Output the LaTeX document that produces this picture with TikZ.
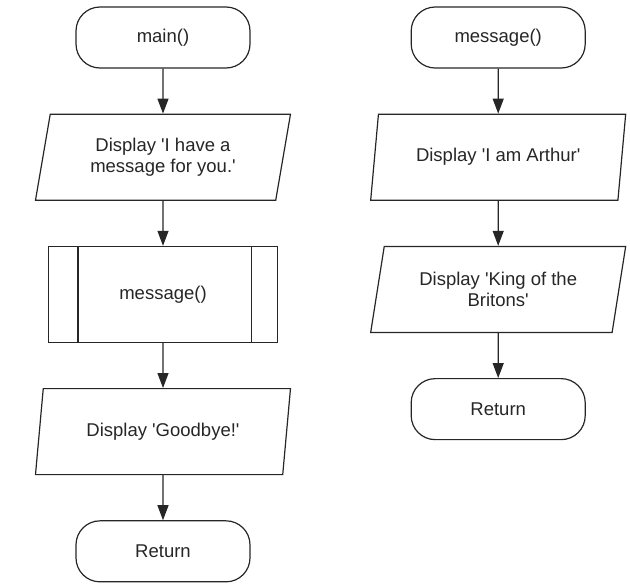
\documentclass[tikz,border=0pt]{standalone}
\usepackage{fontspec}
\setmainfont{Liberation Sans}
\usetikzlibrary{shapes.geometric, arrows.meta, positioning}

\begin{document}
\begin{tikzpicture}[x=1pt, y=1pt, node distance=45pt and 160pt, font=\fontsize{18.5}{21.5}\selectfont, text=black!85]
\tikzstyle{terminal}=[rectangle, rounded corners=24pt, minimum width=174pt, minimum height=61pt, draw=black!85, line width=1.2pt]
\tikzstyle{io}=[trapezium, trapezium left angle=72, trapezium right angle=108, trapezium stretches body, minimum width=255pt, minimum height=86pt, align=center, draw=black!85, line width=1.2pt]
\tikzstyle{subproc}=[rectangle, minimum width=229pt, minimum height=96pt, draw=black!85, line width=1.2pt]
\tikzstyle{arrow}=[line width=1.2pt, draw=black!85, -{Triangle[length=15pt, width=11pt]}]

\useasboundingbox (0,0) rectangle (630,-584);

% main program
\node (main) [terminal] at (163,-37.5) {main()};
\node (disp1) [io, below=of main] {Display \textquotesingle I have a\\message for you.\textquotesingle};
\node (call) [subproc, below=of disp1] {message()};
\node (bye) [io, below=of call] {Display \textquotesingle Goodbye!\textquotesingle};
\node (ret1) [terminal, below=of bye] {Return};

% message module
\node (msg) [terminal, right=of main] {message()};
\node (arthur) [io, below=of msg] {Display \textquotesingle I am Arthur\textquotesingle};
\node (king) [io, below=of arthur] {Display \textquotesingle King of the\\Britons\textquotesingle};
\node (ret2) [terminal, below=of king] {Return};

\draw [line width=1.2pt, draw=black!85] ([xshift=30pt]call.north west) -- ([xshift=30pt]call.south west);
\draw [line width=1.2pt, draw=black!85] ([xshift=-27pt]call.north east) -- ([xshift=-27pt]call.south east);

\draw [arrow] (main) -- (disp1);
\draw [arrow] (disp1) -- (call);
\draw [arrow] (call) -- (bye);
\draw [arrow] (bye) -- (ret1);
\draw [arrow] (msg) -- (arthur);
\draw [arrow] (arthur) -- (king);
\draw [arrow] (king) -- (ret2);

\end{tikzpicture}
\end{document}
